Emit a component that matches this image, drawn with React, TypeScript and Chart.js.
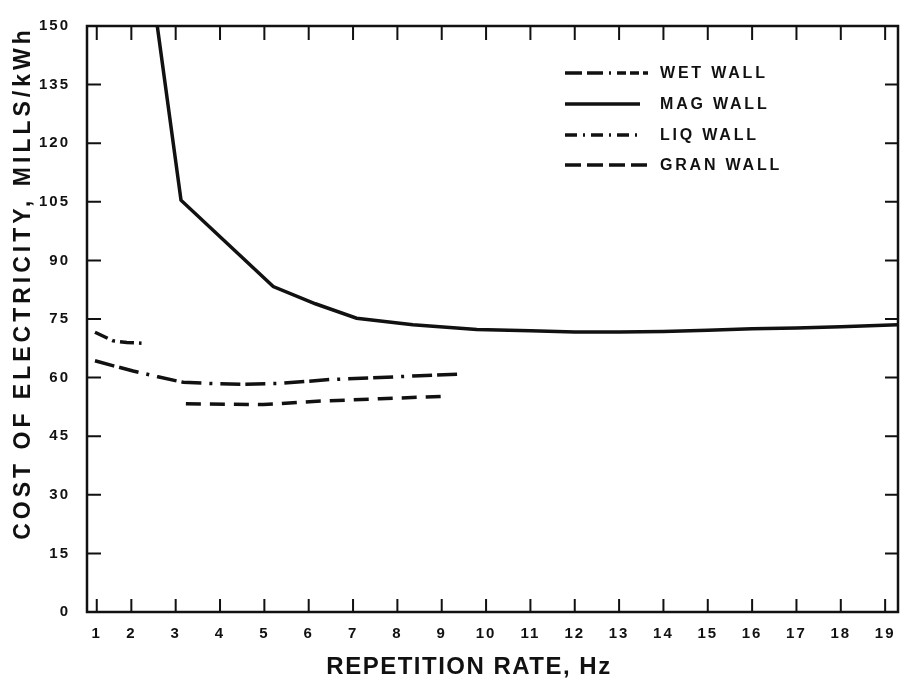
import React, { useEffect, useRef } from 'react';
import { Chart, registerables } from 'chart.js';

Chart.register(...registerables);

// ---- Data ----
const xTickValues = [1.22, 2, 3, 4, 5, 6, 7, 8, 9, 10, 11, 12, 13, 14, 15, 16, 17, 18, 19];
const xTickLabels = ['1', '2', '3', '4', '5', '6', '7', '8', '9', '10', '11', '12', '13', '14', '15', '16', '17', '18', '19'];
const yTickValues = [0, 15, 30, 45, 60, 75, 90, 105, 120, 135, 150];
const yTickLabels = ['0', '15', '30', '45', '60', '75', '90', '105', '120', '135', '150'];

const wetX = [1.18, 1.6, 2.04, 2.6, 3.17, 3.8, 4.52, 5.35, 6.48, 7.61, 8.5, 9.49];
const wetY = [64.3, 63.0, 61.7, 60.2, 58.8, 58.5, 58.3, 58.5, 59.5, 60.0, 60.5, 60.9];

const magX = [2.585, 3.12, 5.2, 6.15, 7.08, 8.35, 9.79, 11, 12, 13, 14, 15, 16, 17, 18, 19.29];
const magY = [150, 105.4, 83.3, 78.9, 75.2, 73.5, 72.3, 72.0, 71.7, 71.7, 71.8, 72.1, 72.5, 72.7, 73.0, 73.5];

const liqX = [1.18, 1.59, 1.9, 2.23];
const liqY = [71.6, 69.4, 69.0, 68.8];

const granX = [3.23, 4.98, 6.1, 7.61, 9.07];
const granY = [53.3, 53.1, 53.9, 54.6, 55.2];

const seriesLabels = ['WET WALL', 'MAG WALL', 'LIQ WALL', 'GRAN WALL'];
const xTitle = 'REPETITION RATE, Hz';
const yTitle = 'COST OF ELECTRICITY, MILLS/kWh';

const INK = '#111111';
const FONT = '"Liberation Sans", Arial, Helvetica, sans-serif';

const toPoints = (xs: number[], ys: number[]) => xs.map((x, i) => ({ x, y: ys[i] }));

const textSpacingPlugin = {
  id: 'textSpacing',
  beforeDraw(chart: any) {
    chart.ctx.letterSpacing = '2px';
  },
};

const framePlugin = {
  id: 'frame',
  afterDatasetsDraw(chart: any) {
    const { ctx, chartArea: a } = chart;
    const xs = chart.scales.x;
    const ys = chart.scales.y;
    ctx.save();
    ctx.strokeStyle = INK;
    ctx.lineWidth = 2.5;
    ctx.strokeRect(a.left, a.top, a.right - a.left, a.bottom - a.top);
    ctx.lineWidth = 2;
    ctx.beginPath();
    xs.ticks.forEach((t: any) => {
      const px = xs.getPixelForValue(t.value);
      ctx.moveTo(px, a.bottom);
      ctx.lineTo(px, a.bottom - 13);
      ctx.moveTo(px, a.top);
      ctx.lineTo(px, a.top + 14);
    });
    ys.ticks.forEach((t: any) => {
      const py = ys.getPixelForValue(t.value);
      ctx.moveTo(a.left, py);
      ctx.lineTo(a.left + 14, py);
      ctx.moveTo(a.right, py);
      ctx.lineTo(a.right - 13, py);
    });
    ctx.stroke();
    ctx.restore();
  },
};

const titlesPlugin = {
  id: 'axisTitles',
  afterDraw(chart: any) {
    const { ctx } = chart;
    ctx.save();
    ctx.fillStyle = INK;
    ctx.font = `bold 24px ${FONT}`;
    ctx.textAlign = 'center';
    ctx.textBaseline = 'middle';
    ctx.letterSpacing = '1.5px';
    ctx.fillText(xTitle, 469, 667);
    ctx.translate(24, 285);
    ctx.rotate(-Math.PI / 2);
    ctx.font = `bold 23px ${FONT}`;
    ctx.letterSpacing = '4px';
    ctx.fillText(yTitle, 2, 0);
    ctx.restore();
  },
};

const legendPlugin = {
  id: 'customLegend',
  afterDatasetsDraw(chart: any) {
    const { ctx } = chart;
    const rows = [73, 104, 135, 165];
    const sampleEnds = [648, 640, 642, 647];
    ctx.save();
    chart.data.datasets.forEach((ds: any, i: number) => {
      const y = rows[i];
      ctx.strokeStyle = INK;
      ctx.lineWidth = 3.5;
      ctx.setLineDash(ds.legendDash || []);
      ctx.beginPath();
      ctx.moveTo(565, y);
      ctx.lineTo(sampleEnds[i], y);
      ctx.stroke();
      ctx.setLineDash([]);
      ctx.fillStyle = INK;
      ctx.font = `bold 16px ${FONT}`;
      ctx.letterSpacing = '2.8px';
      ctx.textAlign = 'left';
      ctx.textBaseline = 'middle';
      ctx.fillText(ds.label, 660, y + 1);
    });
    ctx.restore();
  },
};

export default function App() {
  const canvasRef = useRef<HTMLCanvasElement | null>(null);

  useEffect(() => {
    if (!canvasRef.current) return;
    const tickFont = { family: FONT, size: 15, weight: 'bold' as const };
    const common = {
      borderColor: INK,
      borderWidth: 3.5,
      pointRadius: 0,
      fill: false,
      tension: 0,
      borderCapStyle: 'butt' as const,
    };
    const chart = new Chart(canvasRef.current, {
      type: 'line',
      data: {
        datasets: [
          { ...common, label: seriesLabels[0], data: toPoints(wetX, wetY), borderDash: [20, 5, 20, 8, 3, 8], legendDash: [17, 5, 16, 6, 2, 6, 9, 4, 9, 4] } as any,
          { ...common, label: seriesLabels[1], data: toPoints(magX, magY), borderDash: [], legendDash: [] } as any,
          { ...common, label: seriesLabels[2], data: toPoints(liqX, liqY), borderDash: [14, 5, 3, 5], legendDash: [12, 6, 2, 6] } as any,
          { ...common, label: seriesLabels[3], data: toPoints(granX, granY), borderDash: [15, 9], legendDash: [16, 6] } as any,
        ],
      },
      options: {
        responsive: false,
        animation: false,
        events: [],
        layout: { padding: { top: 20, right: 5, left: 0, bottom: 0 } },
        plugins: { legend: { display: false }, tooltip: { enabled: false }, title: { display: false } },
        scales: {
          x: {
            type: 'linear',
            min: 1,
            max: 19.29,
            afterBuildTicks: (s: any) => {
              s.ticks = xTickValues.map((v) => ({ value: v }));
            },
            afterFit: (s: any) => {
              s.height = 73;
              s.paddingLeft = 0;
              s.paddingRight = 0;
            },
            ticks: {
              autoSkip: false,
              maxRotation: 0,
              padding: 13,
              color: INK,
              font: tickFont,
              callback: (_v: any, i: number) => xTickLabels[i],
            },
            grid: { display: false, drawTicks: false },
            border: { display: false },
          },
          y: {
            type: 'linear',
            min: 0,
            max: 150,
            afterBuildTicks: (s: any) => {
              s.ticks = yTickValues.map((v) => ({ value: v }));
            },
            afterFit: (s: any) => {
              s.width = 87;
            },
            ticks: {
              padding: 17,
              color: INK,
              font: tickFont,
              callback: (_v: any, i: number) => yTickLabels[i],
            },
            grid: { display: false, drawTicks: false },
            border: { display: false },
          },
        },
      } as any,
      plugins: [textSpacingPlugin, framePlugin, legendPlugin, titlesPlugin],
    });
    return () => chart.destroy();
  }, []);

  return (
    <div style={{ position: 'fixed', left: 0, top: 0, width: 903, height: 685, background: '#fff' }}>
      <canvas ref={canvasRef} width={903} height={685} style={{ display: 'block' }} />
    </div>
  );
}
